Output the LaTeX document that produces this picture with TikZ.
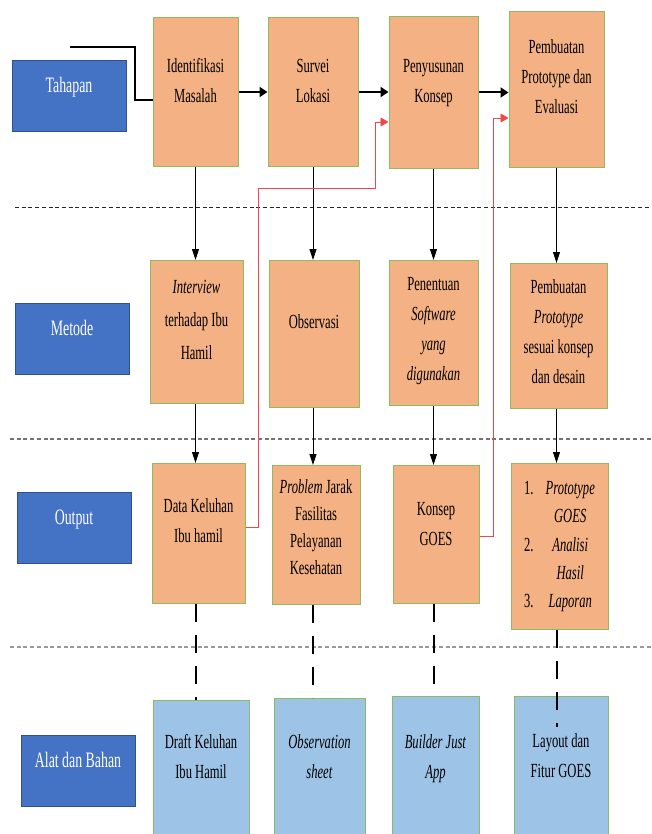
\documentclass[tikz,border=0pt]{standalone}
\usepackage{fontspec}
\usepackage{xcolor}
\usepackage{tikz}
\usetikzlibrary{arrows.meta, positioning}
\newfontfamily\condserif[FakeStretch=0.63]{Liberation Serif}
\definecolor{bandblue}{HTML}{4472C4}
\definecolor{bandedge}{HTML}{2F528F}
\definecolor{peach}{HTML}{F4B183}
\definecolor{skyfill}{HTML}{9DC3E6}
\definecolor{leaf}{HTML}{8CBC5E}
\definecolor{feedred}{HTML}{F0474F}
\newcommand{\boxlines}[1]{\begin{tabular}[t]{@{}c@{}}#1\end{tabular}}
\tikzset{
  rowlabel/.style={rectangle, draw=bandedge, fill=bandblue, text=white, anchor=north, inner sep=0pt, minimum width=114pt, text height=32pt, text depth=39pt, font=\condserif\fontsize{22}{30}\selectfont},
  stage/.style={rectangle, draw=leaf, line width=1pt, fill=peach, anchor=north, inner sep=0pt, font=\condserif\fontsize{20}{30}\selectfont},
  toolbox/.style={rectangle, draw=leaf, line width=1pt, fill=skyfill, anchor=north, inner sep=0pt, text depth=100pt, font=\condserif\fontsize{20}{30}\selectfont},
  flow/.style={-{Triangle[length=8pt, width=10pt]}, line width=2pt, color=black},
  entryline/.style={line width=2pt, color=black},
  arrow/.style={-{Triangle[length=11pt, width=7pt]}, line width=0.9pt, color=black},
  tooldash/.style={line width=2pt, color=black, dash pattern=on 18pt off 13pt},
  feedback/.style={-{Triangle[length=8pt, width=9pt]}, line width=0.9pt, color=feedred},
  sepone/.style={line width=1.6pt, color=black!85, dash pattern=on 4pt off 2.7pt},
  septwo/.style={line width=2pt, color=black!55, dash pattern=on 4pt off 2.7pt},
  septhree/.style={line width=2pt, color=black!40, dash pattern=on 4pt off 2.7pt},
}
\begin{document}
\begin{tikzpicture}[x=1pt, y=-1pt]
  \useasboundingbox (0,0) rectangle (651,834);
  \clip (0,0) rectangle (651,834);
  % row labels
  \node[rowlabel] (tahapan) at (69,60) {Tahapan};
  \node[rowlabel] (metode) at (72,303) {Metode};
  \node[rowlabel] (output) at (74,492) {Output};
  \node[rowlabel] (alat) at (78,735) {Alat dan Bahan};
  % tahapan
  \node[stage, minimum width=85pt, text height=55pt, text depth=94pt] (ident) at (195.5,17) {\boxlines{Identifikasi\\Masalah}};
  \node[stage, minimum width=90pt, text height=55pt, text depth=94pt] (survei) at (313,17) {\boxlines{Survei\\Lokasi}};
  \node[stage, minimum width=89pt, text height=56pt, text depth=96pt] (susun) at (433.5,16) {\boxlines{Penyusunan\\Konsep}};
  \node[stage, minimum width=95pt, text height=42pt, text depth=114pt] (buat) at (556.5,11) {\boxlines{Pembuatan\\Prototype dan\\Evaluasi}};
  % metode
  \node[stage, minimum width=93pt, text height=33pt, text depth=110pt, font=\condserif\fontsize{20}{33}\selectfont] (interview) at (196.5,260) {\boxlines{\textit{Interview}\\terhadap Ibu\\Hamil}};
  \node[stage, minimum width=90pt, text height=68pt, text depth=79pt] (observ) at (314,260) {\boxlines{Observasi}};
  \node[stage, minimum width=89pt, text height=30pt, text depth=115pt] (tentu) at (433.5,260) {\boxlines{Penentuan\\\textit{Software}\\\textit{yang}\\\textit{digunakan}}};
  \node[stage, minimum width=97pt, text height=30pt, text depth=115pt] (proto) at (558.5,263) {\boxlines{Pembuatan\\\textit{Prototype}\\sesuai konsep\\dan desain}};
  % output
  \node[stage, minimum width=93pt, text height=49pt, text depth=91pt] (data) at (198.5,463) {\boxlines{Data Keluhan\\Ibu hamil}};
  \node[stage, minimum width=88pt, text height=28pt, text depth=111pt, font=\condserif\fontsize{20}{27}\selectfont] (problem) at (316,465) {\boxlines{\textit{Problem} Jarak\\Fasilitas\\Pelayanan\\Kesehatan}};
  \node[stage, minimum width=86pt, text height=50pt, text depth=88pt] (konsep) at (436,465) {\boxlines{Konsep\\GOES}};
  \node[stage, minimum width=97pt, text height=31pt, text depth=135pt, font=\condserif\fontsize{20}{28.3}\selectfont] (hasil) at (559.5,463)
    {\begin{tabular}[t]{@{}l@{\hspace{12pt}}c@{}}1. & \textit{Prototype}\\ & \textit{GOES}\\2. & \textit{Analisi}\\ & \textit{Hasil}\\3. & \textit{Laporan}\end{tabular}};
  % alat dan bahan
  \node[toolbox, minimum width=96pt, text height=48pt] (draft) at (201,700) {\boxlines{Draft Keluhan\\Ibu Hamil}};
  \node[toolbox, minimum width=91pt, text height=50pt] (sheet) at (319.5,698) {\boxlines{\textit{Observation}\\\textit{sheet}}};
  \node[toolbox, minimum width=87pt, text height=52pt] (builder) at (435.5,696) {\boxlines{\textit{Builder Just}\\\textit{App}}};
  \node[toolbox, minimum width=94pt, text height=51pt] (layout) at (561,696) {\boxlines{Layout dan\\Fitur GOES}};
  % separators
  \draw[sepone] (15,207.5) -- (651,207.5);
  \draw[septwo] (10,439) -- (651,439);
  \draw[septhree] (10,647) -- (651,647);
  % connectors
  \coordinate (entry) at (70,47);
  \coordinate (entrybend) at (135,100);
  \draw[entryline] (entry) -| (entrybend) -- (entrybend -| ident.west);
  \draw[flow] (ident.east) -- (ident.east -| survei.west);
  \draw[flow] (survei.east) -- (survei.east -| susun.west);
  \draw[flow] (susun.east) -- (susun.east -| buat.west);
  \draw[arrow] (ident.south) -- (ident.south |- interview.north);
  \draw[arrow] (survei.south) -- (survei.south |- observ.north);
  \draw[arrow] (susun.south) -- (susun.south |- tentu.north);
  \draw[arrow] (buat.south) -- (buat.south |- proto.north);
  \draw[arrow] (interview.south -| ident.south) -- (data.north -| ident.south);
  \draw[arrow] (observ.south -| survei.south) -- (problem.north -| survei.south);
  \draw[arrow] (tentu.south -| susun.south) -- (konsep.north -| susun.south);
  \draw[arrow] (proto.south -| buat.south) -- (hasil.north -| buat.south);
  \draw[tooldash] (data.south -| ident.south) -- (draft.north -| ident.south);
  \draw[tooldash] (problem.south -| survei.south) -- (sheet.north -| survei.south);
  \draw[tooldash] (konsep.south -| susun.south) -- (builder.north -| susun.south);
  \coordinate (layoutin) at ([yshift=-31pt]layout.north);
  \draw[tooldash] (hasil.south -| buat.south) -- (layoutin -| buat.south);
  % feedback
  \coordinate (fbone) at (258,188);
  \coordinate (fbtwo) at (375,122);
  \coordinate (fbthree) at (493,118);
  \draw[feedback] ([yshift=6pt]data.east) -| (fbone) -| (fbtwo) -- (fbtwo -| susun.west);
  \draw[feedback] ([yshift=-2pt]konsep.east) -| (fbthree) -- (fbthree -| buat.west);
\end{tikzpicture}
\end{document}
